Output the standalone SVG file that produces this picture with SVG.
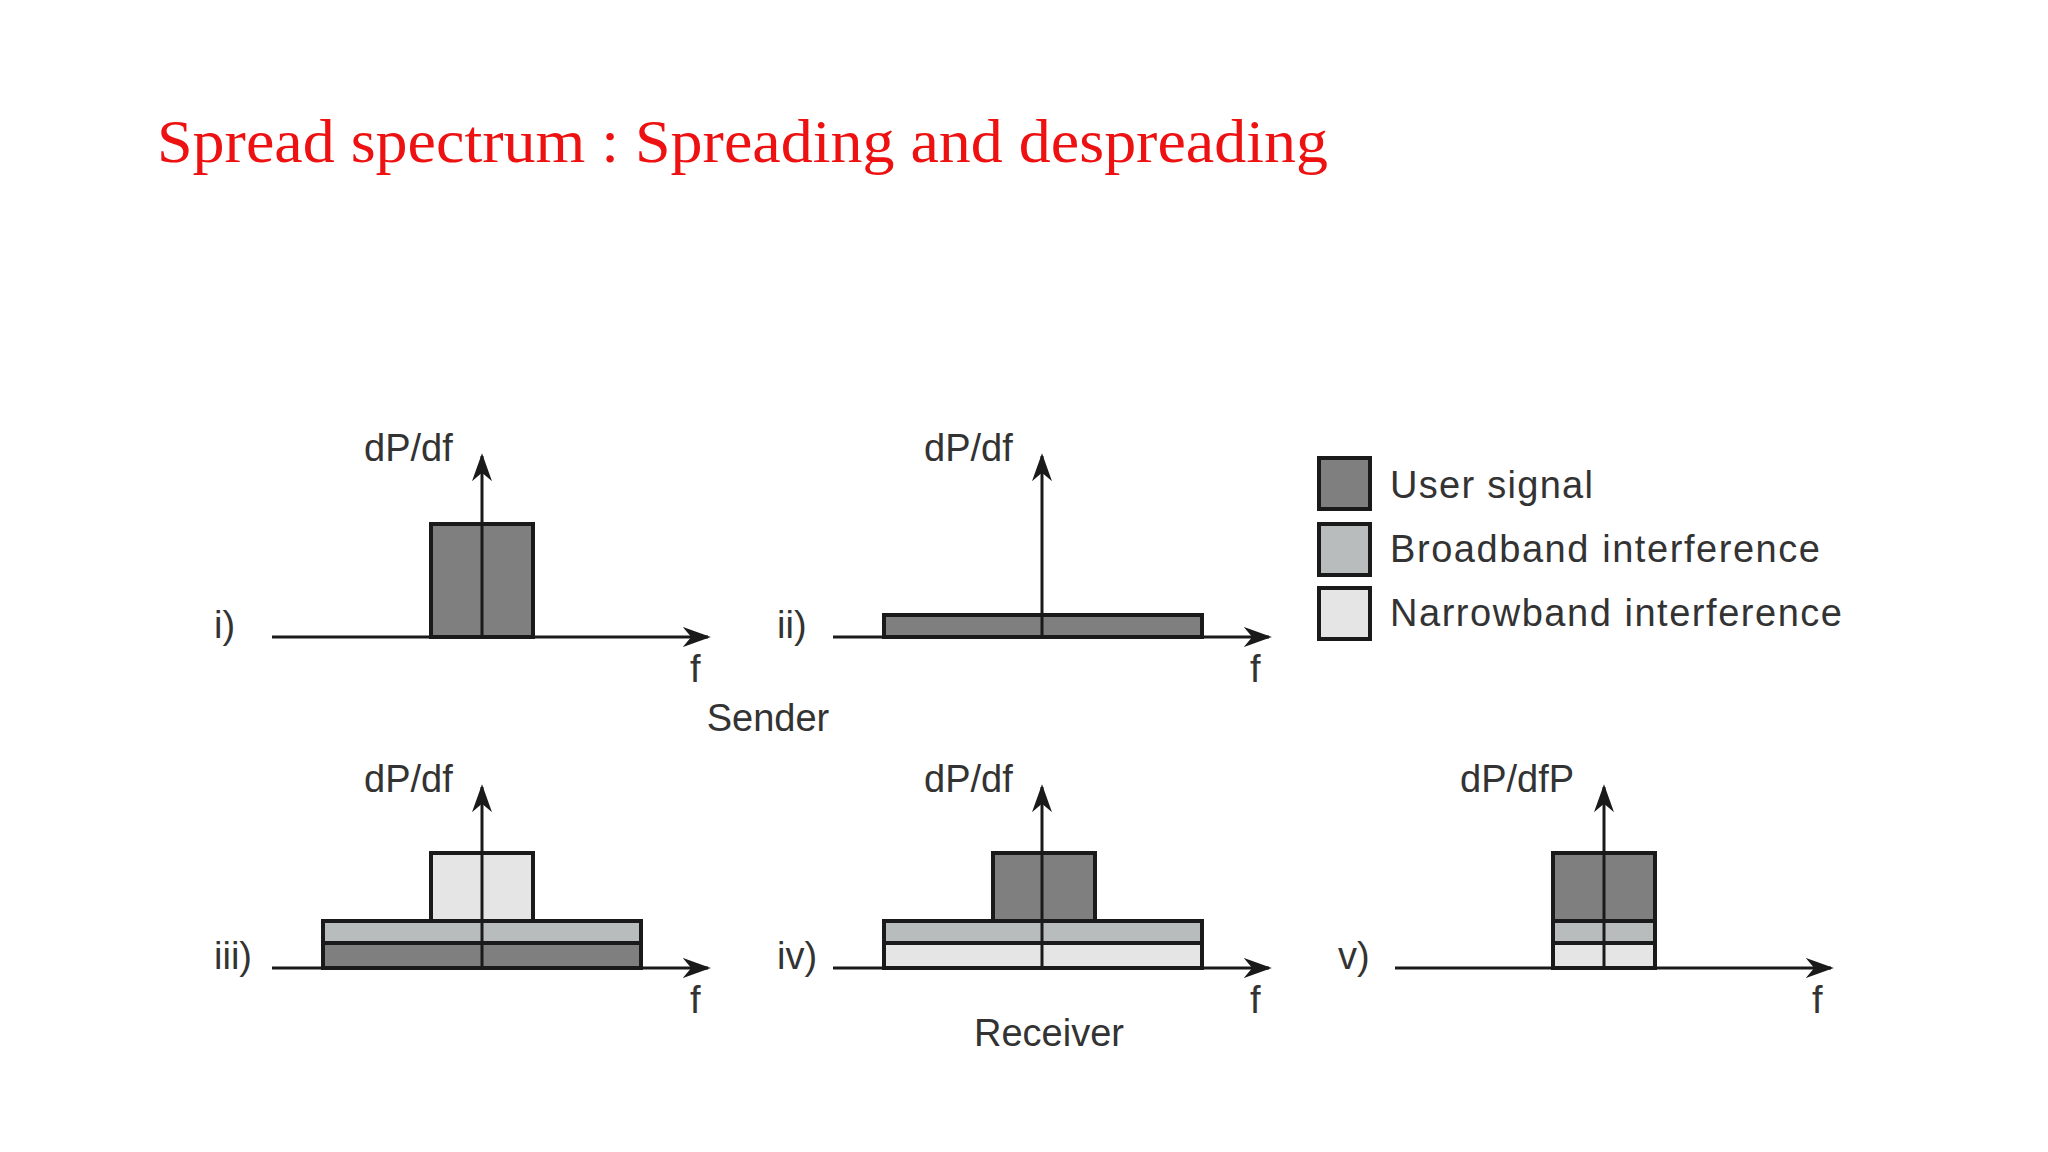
<svg xmlns="http://www.w3.org/2000/svg" width="2048" height="1152" viewBox="0 0 2048 1152">
<style>
.t{font-family:"Liberation Sans",Arial,sans-serif;font-size:38px;fill:#333}
.ax{stroke:#1a1a1a;stroke-width:3;fill:none}
.d{fill:#7f7f7f;stroke:#1a1a1a;stroke-width:4}
.m{fill:#b9bcbc;stroke:#1a1a1a;stroke-width:4}
.l{fill:#e5e5e5;stroke:#1a1a1a;stroke-width:4}
</style>
<defs>
<marker id="b" viewBox="0 0 10 10" refX="9" refY="5" markerWidth="28" markerHeight="20" orient="auto" markerUnits="userSpaceOnUse" preserveAspectRatio="none"><path d="M0,0L10,5L0,10L3,5z" fill="#1a1a1a"/></marker></defs>
<rect width="2048" height="1152" fill="#fff"/>
<text x="157" y="162" font-family="Liberation Serif,serif" font-size="61" fill="#ee1111" textLength="1171" lengthAdjust="spacingAndGlyphs">Spread spectrum : Spreading and despreading</text>
<g id="p1">
<rect class="d" x="431" y="524" width="102" height="113"/>
<line class="ax" x1="272" y1="637" x2="708" y2="637" marker-end="url(#b)"/>
<line class="ax" x1="482" y1="637" x2="482" y2="456" marker-end="url(#b)"/>
<text class="t" x="364" y="461">dP/df</text><text class="t" x="214" y="638">i)</text><text class="t" x="690" y="682">f</text>
</g>
<g id="p2">
<rect class="d" x="884" y="615" width="318" height="22"/>
<line class="ax" x1="833" y1="637" x2="1269" y2="637" marker-end="url(#b)"/>
<line class="ax" x1="1042" y1="637" x2="1042" y2="456" marker-end="url(#b)"/>
<text class="t" x="924" y="461">dP/df</text><text class="t" x="777" y="638">ii)</text><text class="t" x="1250" y="682">f</text>
</g>
<g id="legend">
<rect class="d" x="1319" y="458" width="51" height="51"/><text class="t" x="1390" y="498" textLength="203">User signal</text>
<rect class="m" x="1319" y="524" width="51" height="51"/><text class="t" x="1390" y="562" textLength="430">Broadband interference</text>
<rect class="l" x="1319" y="588" width="51" height="51"/><text class="t" x="1390" y="626" textLength="452">Narrowband interference</text>
</g>
<text class="t" x="768" y="731" text-anchor="middle">Sender</text>
<g id="p3">
<rect class="l" x="431" y="853" width="102" height="68"/>
<rect class="m" x="323" y="921" width="318" height="22"/>
<rect class="d" x="323" y="943" width="318" height="25"/>
<line class="ax" x1="272" y1="968" x2="708" y2="968" marker-end="url(#b)"/>
<line class="ax" x1="482" y1="968" x2="482" y2="787" marker-end="url(#b)"/>
<text class="t" x="364" y="792">dP/df</text><text class="t" x="214" y="969">iii)</text><text class="t" x="690" y="1013">f</text>
</g>
<g id="p4">
<rect class="d" x="993" y="853" width="102" height="68"/>
<rect class="m" x="884" y="921" width="318" height="22"/>
<rect class="l" x="884" y="943" width="318" height="25"/>
<line class="ax" x1="833" y1="968" x2="1269" y2="968" marker-end="url(#b)"/>
<line class="ax" x1="1042" y1="968" x2="1042" y2="787" marker-end="url(#b)"/>
<text class="t" x="924" y="792">dP/df</text><text class="t" x="777" y="969">iv)</text><text class="t" x="1250" y="1013">f</text>
</g>
<g id="p5">
<rect class="d" x="1553" y="853" width="102" height="68"/>
<rect class="m" x="1553" y="921" width="102" height="22"/>
<rect class="l" x="1553" y="943" width="102" height="25"/>
<line class="ax" x1="1395" y1="968" x2="1831" y2="968" marker-end="url(#b)"/>
<line class="ax" x1="1604" y1="968" x2="1604" y2="787" marker-end="url(#b)"/>
<text class="t" x="1460" y="792">dP/dfP</text><text class="t" x="1338" y="969">v)</text><text class="t" x="1812" y="1013">f</text>
</g>
<text class="t" x="1049" y="1046" text-anchor="middle">Receiver</text>
</svg>
